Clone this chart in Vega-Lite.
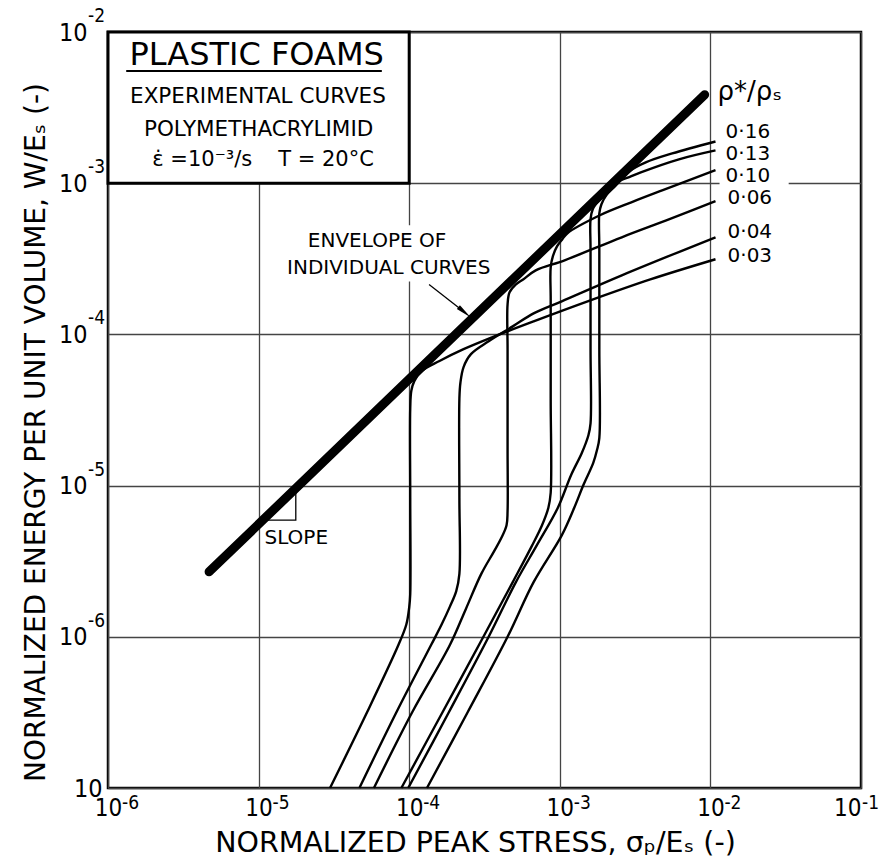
{
  "$schema": "https://vega.github.io/schema/vega-lite/v6.json",
  "width": 753,
  "height": 756,
  "autosize": {"type": "none"},
  "padding": {"left": 108, "top": 32, "right": 27, "bottom": 75},
  "background": "white",
  "config": {
    "font": "DejaVu Sans",
    "view": {"stroke": "black", "strokeWidth": 2.5}
  },
  "datasets": {
    "curves": [
      {"c": "0.03", "i": 1, "x": 2.98e-5, "y": 1e-7},
      {"c": "0.03", "i": 2, "x": 5.26e-5, "y": 3.18e-7},
      {"c": "0.03", "i": 3, "x": 8.49e-5, "y": 8.85e-7},
      {"c": "0.03", "i": 4, "x": 9.57e-5, "y": 1.205e-6},
      {"c": "0.03", "i": 5, "x": 1.0e-4, "y": 1.567e-6},
      {"c": "0.03", "i": 6, "x": 1.016e-4, "y": 1.914e-6},
      {"c": "0.03", "i": 7, "x": 1.016e-4, "y": 8.3e-6},
      {"c": "0.03", "i": 8, "x": 1.016e-4, "y": 3.24e-5},
      {"c": "0.03", "i": 9, "x": 1.033e-4, "y": 4.24e-5},
      {"c": "0.03", "i": 10, "x": 1.083e-4, "y": 4.93e-5},
      {"c": "0.03", "i": 11, "x": 1.212e-4, "y": 5.73e-5},
      {"c": "0.03", "i": 12, "x": 1.589e-4, "y": 6.67e-5},
      {"c": "0.03", "i": 13, "x": 2.296e-4, "y": 7.98e-5},
      {"c": "0.03", "i": 14, "x": 3.54e-4, "y": 9.55e-5},
      {"c": "0.03", "i": 15, "x": 6.7e-4, "y": 1.219e-4},
      {"c": "0.03", "i": 16, "x": 1.596e-3, "y": 1.679e-4},
      {"c": "0.03", "i": 17, "x": 3.99e-3, "y": 2.31e-4},
      {"c": "0.03", "i": 18, "x": 1.081e-2, "y": 3.14e-4},

      {"c": "0.04", "i": 1, "x": 4.67e-5, "y": 1e-7},
      {"c": "0.04", "i": 2, "x": 8.24e-5, "y": 3.18e-7},
      {"c": "0.04", "i": 3, "x": 1.4e-4, "y": 8.85e-7},
      {"c": "0.04", "i": 4, "x": 1.641e-4, "y": 1.205e-6},
      {"c": "0.04", "i": 5, "x": 1.866e-4, "y": 1.589e-6},
      {"c": "0.04", "i": 6, "x": 2.053e-4, "y": 2.004e-6},
      {"c": "0.04", "i": 7, "x": 2.154e-4, "y": 2.606e-6},
      {"c": "0.04", "i": 8, "x": 2.154e-4, "y": 8.3e-6},
      {"c": "0.04", "i": 9, "x": 2.154e-4, "y": 3.76e-5},
      {"c": "0.04", "i": 10, "x": 2.188e-4, "y": 4.79e-5},
      {"c": "0.04", "i": 11, "x": 2.296e-4, "y": 6.08e-5},
      {"c": "0.04", "i": 12, "x": 2.57e-4, "y": 7.4e-5},
      {"c": "0.04", "i": 13, "x": 3.37e-4, "y": 9.0e-5},
      {"c": "0.04", "i": 14, "x": 4.87e-4, "y": 1.13e-4},
      {"c": "0.04", "i": 15, "x": 6.7e-4, "y": 1.377e-4},
      {"c": "0.04", "i": 16, "x": 1.03e-3, "y": 1.656e-4},
      {"c": "0.04", "i": 17, "x": 2.58e-3, "y": 2.46e-4},
      {"c": "0.04", "i": 18, "x": 1.081e-2, "y": 4.39e-4},

      {"c": "0.06", "i": 1, "x": 5.83e-5, "y": 1e-7},
      {"c": "0.06", "i": 2, "x": 1.049e-4, "y": 3.18e-7},
      {"c": "0.06", "i": 3, "x": 1.866e-4, "y": 8.85e-7},
      {"c": "0.06", "i": 4, "x": 2.371e-4, "y": 1.517e-6},
      {"c": "0.06", "i": 5, "x": 3.01e-4, "y": 2.606e-6},
      {"c": "0.06", "i": 6, "x": 3.65e-4, "y": 3.66e-6},
      {"c": "0.06", "i": 7, "x": 4.08e-4, "y": 4.48e-6},
      {"c": "0.06", "i": 8, "x": 4.43e-4, "y": 5.47e-6},
      {"c": "0.06", "i": 9, "x": 4.5e-4, "y": 6.79e-6},
      {"c": "0.06", "i": 10, "x": 4.5e-4, "y": 1.77e-5},
      {"c": "0.06", "i": 11, "x": 4.5e-4, "y": 7.98e-5},
      {"c": "0.06", "i": 12, "x": 4.5e-4, "y": 1.581e-4},
      {"c": "0.06", "i": 13, "x": 4.64e-4, "y": 1.897e-4},
      {"c": "0.06", "i": 14, "x": 5.11e-4, "y": 2.14e-4},
      {"c": "0.06", "i": 15, "x": 5.71e-4, "y": 2.31e-4},
      {"c": "0.06", "i": 16, "x": 6.92e-4, "y": 2.65e-4},
      {"c": "0.06", "i": 17, "x": 1.076e-3, "y": 3.09e-4},
      {"c": "0.06", "i": 18, "x": 2.58e-3, "y": 4.39e-4},
      {"c": "0.06", "i": 19, "x": 5.35e-3, "y": 5.78e-4},
      {"c": "0.06", "i": 20, "x": 1.081e-2, "y": 7.6e-4},

      {"c": "0.10", "i": 1, "x": 8.87e-5, "y": 1e-7},
      {"c": "0.10", "i": 2, "x": 1.668e-4, "y": 3.18e-7},
      {"c": "0.10", "i": 3, "x": 3.11e-4, "y": 1e-6},
      {"c": "0.10", "i": 4, "x": 4.87e-4, "y": 2.3e-6},
      {"c": "0.10", "i": 5, "x": 6.49e-4, "y": 3.95e-6},
      {"c": "0.10", "i": 6, "x": 7.62e-4, "y": 5.47e-6},
      {"c": "0.10", "i": 7, "x": 8.39e-4, "y": 7.11e-6},
      {"c": "0.10", "i": 8, "x": 8.7e-4, "y": 8.97e-6},
      {"c": "0.10", "i": 9, "x": 8.7e-4, "y": 3.76e-5},
      {"c": "0.10", "i": 10, "x": 8.7e-4, "y": 1.706e-4},
      {"c": "0.10", "i": 11, "x": 8.7e-4, "y": 2.78e-4},
      {"c": "0.10", "i": 12, "x": 9.0e-4, "y": 3.29e-4},
      {"c": "0.10", "i": 13, "x": 9.6e-4, "y": 3.83e-4},
      {"c": "0.10", "i": 14, "x": 1.04e-3, "y": 4.26e-4},
      {"c": "0.10", "i": 15, "x": 1.124e-3, "y": 4.67e-4},
      {"c": "0.10", "i": 16, "x": 1.846e-3, "y": 6.14e-4},
      {"c": "0.10", "i": 17, "x": 2.985e-3, "y": 7.48e-4},
      {"c": "0.10", "i": 18, "x": 4.83e-3, "y": 9.0e-4},
      {"c": "0.10", "i": 19, "x": 1.081e-2, "y": 1.219e-3},

      {"c": "0.13", "i": 1, "x": 9.85e-5, "y": 1e-7},
      {"c": "0.13", "i": 2, "x": 1.837e-4, "y": 3.18e-7},
      {"c": "0.13", "i": 3, "x": 3.37e-4, "y": 1e-6},
      {"c": "0.13", "i": 4, "x": 5.11e-4, "y": 2.3e-6},
      {"c": "0.13", "i": 5, "x": 7.03e-4, "y": 4.02e-6},
      {"c": "0.13", "i": 6, "x": 9.69e-4, "y": 7.11e-6},
      {"c": "0.13", "i": 7, "x": 1.191e-3, "y": 1.18e-5},
      {"c": "0.13", "i": 8, "x": 1.4e-3, "y": 1.644e-5},
      {"c": "0.13", "i": 9, "x": 1.549e-3, "y": 2.154e-5},
      {"c": "0.13", "i": 10, "x": 1.6e-3, "y": 2.58e-5},
      {"c": "0.13", "i": 11, "x": 1.6e-3, "y": 7.98e-5},
      {"c": "0.13", "i": 12, "x": 1.6e-3, "y": 3.66e-4},
      {"c": "0.13", "i": 13, "x": 1.6e-3, "y": 5.78e-4},
      {"c": "0.13", "i": 14, "x": 1.655e-3, "y": 6.73e-4},
      {"c": "0.13", "i": 15, "x": 1.816e-3, "y": 7.71e-4},
      {"c": "0.13", "i": 16, "x": 2.07e-3, "y": 8.85e-4},
      {"c": "0.13", "i": 17, "x": 2.4e-3, "y": 1.016e-3},
      {"c": "0.13", "i": 18, "x": 2.86e-3, "y": 1.094e-3},
      {"c": "0.13", "i": 19, "x": 3.45e-3, "y": 1.18e-3},
      {"c": "0.13", "i": 20, "x": 6.18e-3, "y": 1.439e-3},
      {"c": "0.13", "i": 21, "x": 1.081e-2, "y": 1.648e-3},

      {"c": "0.16", "i": 1, "x": 1.312e-4, "y": 1e-7},
      {"c": "0.16", "i": 2, "x": 2.449e-4, "y": 3.18e-7},
      {"c": "0.16", "i": 3, "x": 4.5e-4, "y": 1e-6},
      {"c": "0.16", "i": 4, "x": 6.7e-4, "y": 2.3e-6},
      {"c": "0.16", "i": 5, "x": 1.03e-3, "y": 4.69e-6},
      {"c": "0.16", "i": 6, "x": 1.245e-3, "y": 7.11e-6},
      {"c": "0.16", "i": 7, "x": 1.439e-3, "y": 1.016e-5},
      {"c": "0.16", "i": 8, "x": 1.668e-3, "y": 1.413e-5},
      {"c": "0.16", "i": 9, "x": 1.766e-3, "y": 1.718e-5},
      {"c": "0.16", "i": 10, "x": 1.83e-3, "y": 2.06e-5},
      {"c": "0.16", "i": 11, "x": 1.83e-3, "y": 7.98e-5},
      {"c": "0.16", "i": 12, "x": 1.83e-3, "y": 3.66e-4},
      {"c": "0.16", "i": 13, "x": 1.83e-3, "y": 6.32e-4},
      {"c": "0.16", "i": 14, "x": 1.89e-3, "y": 7.26e-4},
      {"c": "0.16", "i": 15, "x": 2.04e-3, "y": 8.34e-4},
      {"c": "0.16", "i": 16, "x": 2.296e-3, "y": 9.42e-4},
      {"c": "0.16", "i": 17, "x": 2.58e-3, "y": 1.062e-3},
      {"c": "0.16", "i": 18, "x": 2.9e-3, "y": 1.2e-3},
      {"c": "0.16", "i": 19, "x": 3.72e-3, "y": 1.374e-3},
      {"c": "0.16", "i": 20, "x": 5.58e-3, "y": 1.574e-3},
      {"c": "0.16", "i": 21, "x": 1.081e-2, "y": 1.888e-3}
    ],
    "envelope": [
      {"i": 1, "x": 4.69e-6, "y": 2.69e-6},
      {"i": 2, "x": 9.16e-3, "y": 3.85e-3}
    ],
    "slope": [
      {"i": 1, "x": 1.067e-5, "y": 5.92e-6},
      {"i": 2, "x": 1.766e-5, "y": 5.92e-6},
      {"i": 3, "x": 1.766e-5, "y": 9.6e-6}
    ],
    "arrow": [
      {"i": 1, "x": 1.355e-4, "y": 2.14e-4},
      {"i": 2, "x": 2.333e-4, "y": 1.4e-4}
    ],
    "arrowHead": [{"x": 2.333e-4, "y": 1.4e-4}],
    "box": [{"x": 1e-6, "x2": 1e-4, "y": 1e-3, "y2": 1e-2}],
    "underline": [{"x": 1.321e-6, "x2": 6.58e-5, "y": 5.53e-3}],
    "envMask": [{"x": 1.766e-5, "x2": 3.43e-4, "y": 2.24e-4, "y2": 5.27e-4}],
    "gridMask": [{"x": 1.15e-2, "x2": 3.31e-2, "y": 1e-3}],
    "xExp": [
      {"x": 1e-6, "y": 1e-7, "e": "-6"},
      {"x": 1e-5, "y": 1e-7, "e": "-5"},
      {"x": 1e-4, "y": 1e-7, "e": "-4"},
      {"x": 1e-3, "y": 1e-7, "e": "-3"},
      {"x": 1e-2, "y": 1e-7, "e": "-2"}
    ],
    "xExpLast": [
      {"x": 1e-1, "y": 1e-7, "e": "-1"}
    ],
    "yExp": [
      {"x": 1e-6, "y": 1e-6, "e": "-6"},
      {"x": 1e-6, "y": 1e-5, "e": "-5"},
      {"x": 1e-6, "y": 1e-4, "e": "-4"},
      {"x": 1e-6, "y": 1e-3, "e": "-3"},
      {"x": 1e-6, "y": 1e-2, "e": "-2"}
    ],
    "boxTitle": [{"x": 9.7e-6, "y": 6.07e-3, "t": "PLASTIC FOAMS"}],
    "boxCenter": [
      {"x": 9.9e-6, "y": 3.41e-3, "t": "EXPERIMENTAL CURVES"},
      {"x": 1.0e-5, "y": 2.04e-3, "t": "POLYMETHACRYLIMID"}
    ],
    "boxLeft": [
      {"x": 1.97e-6, "y": 1.294e-3, "t": "ε̇ =10⁻³/s"},
      {"x": 1.349e-5, "y": 1.294e-3, "t": "T = 20°C"}
    ],
    "envText": [
      {"x": 6.11e-5, "y": 3.77e-4, "t": "ENVELOPE OF"},
      {"x": 7.31e-5, "y": 2.49e-4, "t": "INDIVIDUAL CURVES"}
    ],
    "slopeText": [{"x": 1.094e-5, "y": 4.14e-6, "t": "SLOPE"}],
    "rho": [{"x": 1.114e-2, "y": 4.03e-3, "t": "ρ*/ρₛ"}],
    "dens": [
      {"x": 1.262e-2, "y": 2.17e-3, "t": "0·16"},
      {"x": 1.262e-2, "y": 1.552e-3, "t": "0·13"},
      {"x": 1.262e-2, "y": 1.112e-3, "t": "0·10"},
      {"x": 1.3e-2, "y": 7.96e-4, "t": "0·06"},
      {"x": 1.3e-2, "y": 4.73e-4, "t": "0·04"},
      {"x": 1.3e-2, "y": 3.29e-4, "t": "0·03"}
    ]
  },
  "encoding": {
    "x": {
      "field": "x", "type": "quantitative",
      "scale": {"type": "log", "domain": [1e-6, 0.1], "nice": false},
      "axis": {
        "title": "NORMALIZED PEAK STRESS, σₚ/Eₛ (-)",
        "values": [1e-6, 1e-5, 1e-4, 1e-3, 1e-2, 1e-1],
        "grid": true, "gridColor": "#444", "gridWidth": 1.3, "gridOpacity": 1,
        "ticks": false, "domain": false,
        "labelExpr": "'10'",
        "labelFont": "DejaVu Sans Condensed",
        "labelFontSize": 24, "labelColor": "black", "labelPadding": 8,
        "labelAlign": {"condition": {"test": "datum.value > 0.05", "value": "right"}, "value": "center"},
        "labelOverlap": false, "labelBound": false, "labelFlush": false, "labelDx": -3,
        "titleFontSize": 28.5, "titleFontWeight": "normal", "titleColor": "black",
        "titleX": 367, "titleY": 63, "titleBaseline": "alphabetic"
      }
    },
    "y": {
      "field": "y", "type": "quantitative",
      "scale": {"type": "log", "domain": [1e-7, 1e-2], "nice": false},
      "axis": {
        "title": "NORMALIZED ENERGY PER UNIT VOLUME, W/Eₛ (-)",
        "values": [1e-7, 1e-6, 1e-5, 1e-4, 1e-3, 1e-2],
        "grid": true, "gridColor": "#444", "gridWidth": 1.3, "gridOpacity": 1,
        "ticks": false, "domain": false,
        "labelExpr": "'10'",
        "labelFont": "DejaVu Sans Condensed",
        "labelFontSize": 25, "labelColor": "black",
        "labelPadding": {"condition": {"test": "datum.value < 1.5e-7", "value": 6}, "value": 21},
        "labelOverlap": false, "labelBound": false, "labelFlush": false,
        "titleFontSize": 28, "titleFontWeight": "normal", "titleColor": "black",
        "titleX": -64, "titleY": 400, "titleBaseline": "alphabetic"
      }
    }
  },
  "layer": [
    {"data": {"name": "envMask"}, "mark": {"type": "rect", "fill": "white"},
     "encoding": {"x2": {"field": "x2"}, "y2": {"field": "y2"}}},
    {"data": {"name": "gridMask"}, "mark": {"type": "rule", "stroke": "white", "strokeWidth": 4},
     "encoding": {"x2": {"field": "x2"}}},
    {"data": {"name": "box"}, "mark": {"type": "rect", "fill": "white", "stroke": "black", "strokeWidth": 3},
     "encoding": {"x2": {"field": "x2"}, "y2": {"field": "y2"}}},
    {"data": {"name": "underline"}, "mark": {"type": "rule", "stroke": "black", "strokeWidth": 2},
     "encoding": {"x2": {"field": "x2"}}},
    {"data": {"name": "curves"},
     "mark": {"type": "line", "stroke": "black", "strokeWidth": 2.4, "interpolate": "catmull-rom"},
     "encoding": {"detail": {"field": "c"}, "order": {"field": "i", "type": "quantitative"}}},
    {"data": {"name": "envelope"},
     "mark": {"type": "line", "stroke": "black", "strokeWidth": 9, "strokeCap": "round"},
     "encoding": {"order": {"field": "i", "type": "quantitative"}}},
    {"data": {"name": "slope"},
     "mark": {"type": "line", "stroke": "black", "strokeWidth": 1.3},
     "encoding": {"order": {"field": "i", "type": "quantitative"}}},
    {"data": {"name": "arrow"},
     "mark": {"type": "line", "stroke": "black", "strokeWidth": 1.3},
     "encoding": {"order": {"field": "i", "type": "quantitative"}}},
    {"data": {"name": "arrowHead"},
     "mark": {"type": "point", "shape": "M-1,-0.3L1,0L-1,0.3Z", "filled": true, "color": "black", "opacity": 1, "angle": 39.5, "size": 260}},
    {"data": {"name": "xExp"},
     "mark": {"type": "text", "font": "DejaVu Sans Condensed", "fontSize": 19, "align": "left", "baseline": "alphabetic", "dx": 14, "dy": 21, "color": "black"},
     "encoding": {"text": {"field": "e"}}},
    {"data": {"name": "xExpLast"},
     "mark": {"type": "text", "font": "DejaVu Sans Condensed", "fontSize": 19, "align": "left", "baseline": "alphabetic", "dx": 1, "dy": 21, "color": "black"},
     "encoding": {"text": {"field": "e"}}},
    {"data": {"name": "yExp"},
     "mark": {"type": "text", "font": "DejaVu Sans Condensed", "fontSize": 19, "align": "left", "baseline": "alphabetic", "dx": -20, "dy": -10, "color": "black"},
     "encoding": {"text": {"field": "e"}}},
    {"data": {"name": "boxTitle"},
     "mark": {"type": "text", "fontSize": 32, "align": "center", "baseline": "alphabetic", "color": "black"},
     "encoding": {"text": {"field": "t"}}},
    {"data": {"name": "boxCenter"},
     "mark": {"type": "text", "fontSize": 21.5, "align": "center", "baseline": "alphabetic", "color": "black"},
     "encoding": {"text": {"field": "t"}}},
    {"data": {"name": "boxLeft"},
     "mark": {"type": "text", "fontSize": 21, "align": "left", "baseline": "alphabetic", "color": "black"},
     "encoding": {"text": {"field": "t"}}},
    {"data": {"name": "envText"},
     "mark": {"type": "text", "fontSize": 20, "align": "center", "baseline": "alphabetic", "color": "black"},
     "encoding": {"text": {"field": "t"}}},
    {"data": {"name": "slopeText"},
     "mark": {"type": "text", "fontSize": 20, "align": "left", "baseline": "alphabetic", "color": "black"},
     "encoding": {"text": {"field": "t"}}},
    {"data": {"name": "rho"},
     "mark": {"type": "text", "fontSize": 26, "align": "left", "baseline": "middle", "color": "black"},
     "encoding": {"text": {"field": "t"}}},
    {"data": {"name": "dens"},
     "mark": {"type": "text", "fontSize": 20, "align": "left", "baseline": "middle", "color": "black"},
     "encoding": {"text": {"field": "t"}}}
  ]
}
